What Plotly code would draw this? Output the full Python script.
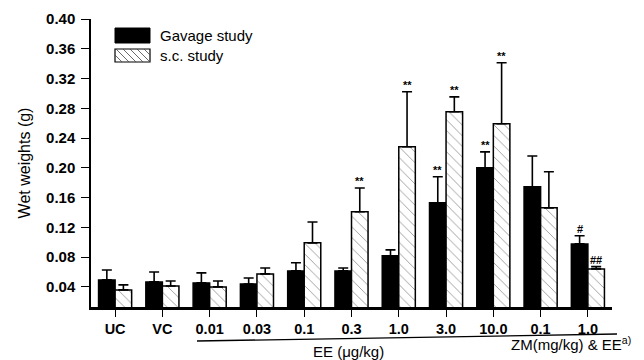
import plotly.graph_objects as go

categories = ["UC", "VC", "0.01", "0.03", "0.1", "0.3", "1.0", "3.0", "10.0", "0.1", "1.0"]
gavage_mean = [0.0494, 0.0467, 0.0454, 0.0440, 0.0615, 0.0615, 0.0817, 0.1530, 0.2000, 0.1745, 0.0978]
gavage_err = [0.0134, 0.0134, 0.0134, 0.0080, 0.0110, 0.0040, 0.0080, 0.0350, 0.0215, 0.0415, 0.0110]
sc_mean = [0.0360, 0.0413, 0.0400, 0.0575, 0.0992, 0.1409, 0.2283, 0.2753, 0.2592, 0.1462, 0.0642]
sc_err = [0.0067, 0.0067, 0.0080, 0.0080, 0.0280, 0.0320, 0.0740, 0.0200, 0.0820, 0.0485, 0.0030]
gavage_marks = ["", "", "", "", "", "", "", "**", "**", "", "#"]
sc_marks = ["", "", "", "", "", "**", "**", "**", "**", "", "##"]
y_ticks = [0.04, 0.08, 0.12, 0.16, 0.20, 0.24, 0.28, 0.32, 0.36, 0.40]

FONT = "Liberation Sans, Arial, sans-serif"
pos = list(range(len(categories)))
BW = 0.35

# the page puts the figure 8px from the window's top-left corner
OFF = 8
W, H = 644 - OFF, 360 - OFF

fig = go.Figure()
fig.add_trace(go.Bar(
    x=pos, y=gavage_mean, width=BW, offset=-BW, name="Gavage study",
    marker=dict(color="black", line=dict(color="black", width=1.5)),
    error_y=dict(type="data", array=gavage_err, arrayminus=[0] * len(pos), symmetric=False,
                 thickness=1.6, width=5, color="black"),
    showlegend=False,
))
fig.add_trace(go.Bar(
    x=pos, y=sc_mean, width=BW, offset=0, name="s.c. study",
    marker=dict(color="white", line=dict(color="black", width=1.5),
                pattern=dict(shape="\\", size=7.5, solidity=0.12, fgcolor="#333333", bgcolor="white")),
    error_y=dict(type="data", array=sc_err, arrayminus=[0] * len(pos), symmetric=False,
                 thickness=1.6, width=5, color="black"),
    showlegend=False,
))

anns = []
for i, m in enumerate(gavage_marks):
    if m:
        anns.append(dict(x=i - BW / 2, y=gavage_mean[i] + gavage_err[i], xref="x", yref="y",
                         text=m, showarrow=False, yanchor="bottom", yshift=-1,
                         font=dict(family=FONT, size=11, color="black", weight="bold")))
for i, m in enumerate(sc_marks):
    if m:
        anns.append(dict(x=i + BW / 2, y=sc_mean[i] + sc_err[i], xref="x", yref="y",
                         text=m, showarrow=False, yanchor="bottom", yshift=-1,
                         font=dict(family=FONT, size=11, color="black", weight="bold")))

# plot area in window pixels: x 91..612, y 19..307
L, R, T, B = 91, 612, 19, 307
def px(x):
    return (x - L) / (R - L)
def py(y):
    return (B - y) / (B - T)

shapes = []
# legend boxes
shapes.append(dict(type="rect", xref="paper", yref="paper", x0=px(115), x1=px(150), y0=py(43), y1=py(28),
                   fillcolor="black", line=dict(color="black", width=1)))
shapes.append(dict(type="rect", xref="paper", yref="paper", x0=px(115), x1=px(150), y0=py(62), y1=py(49),
                   fillcolor="white", line=dict(color="black", width=1.2)))
# hatch lines in legend box
bx0, bx1, by0, by1 = 115, 150, 49, 62
h = by1 - by0
k = bx0 - h
while k < bx1:
    xa, ya = k, by0
    xb, yb = k + h, by1
    if xa < bx0:
        ya = by0 + (bx0 - xa)
        xa = bx0
    if xb > bx1:
        yb = by1 - (xb - bx1)
        xb = bx1
    if xb > xa:
        shapes.append(dict(type="line", xref="paper", yref="paper", x0=px(xa), y0=py(ya), x1=px(xb), y1=py(yb),
                           line=dict(color="#444444", width=0.8)))
    k += 7
# underline below group labels
shapes.append(dict(type="line", xref="paper", yref="paper", x0=px(197), y0=py(341), x1=px(617), y1=py(334),
                   line=dict(color="black", width=1.3)))

anns.append(dict(x=px(158), y=py(35), xref="paper", yref="paper", text="Gavage study", showarrow=False,
                 xanchor="left", yanchor="middle", font=dict(family=FONT, size=15, color="black")))
anns.append(dict(x=px(158), y=py(55), xref="paper", yref="paper", text="s.c. study", showarrow=False,
                 xanchor="left", yanchor="middle", font=dict(family=FONT, size=15, color="black")))
anns.append(dict(x=px(348), y=py(351), xref="paper", yref="paper", text="EE (μg/kg)", showarrow=False,
                 xanchor="center", yanchor="middle", font=dict(family=FONT, size=15, color="black")))
anns.append(dict(x=px(571), y=py(343), xref="paper", yref="paper", text="ZM(mg/kg) & EE<sup>a)</sup>",
                 showarrow=False, xanchor="center", yanchor="middle", font=dict(family=FONT, size=15, color="black")))

fig.update_layout(
    width=W, height=H,
    margin=dict(l=L - OFF, r=W - (R - OFF), t=T - OFF, b=H - (B - OFF), autoexpand=False),
    paper_bgcolor="white", plot_bgcolor="white",
    barmode="overlay",
    font=dict(family=FONT, color="black"),
    annotations=anns, shapes=shapes,
)
fig.update_xaxes(
    range=[-0.51, 10.51], tickvals=pos, ticktext=categories,
    showline=True, linecolor="black", linewidth=2.5,
    ticks="outside", ticklen=7, tickwidth=1, tickcolor="black",
    tickfont=dict(family=FONT, size=14.5, color="black", weight="bold"),
    showgrid=False, zeroline=False,
)
fig.update_yaxes(
    range=[0.013, 0.40], tickvals=y_ticks, tickformat=".2f",
    showline=True, linecolor="black", linewidth=1.5,
    ticks="outside", ticklen=8, tickwidth=1, tickcolor="black",
    ticklabelstandoff=3,
    tickfont=dict(family=FONT, size=15, color="black", weight="bold"),
    title=dict(text="Wet weights (g)", font=dict(family=FONT, size=16, color="black"), standoff=11),
    showgrid=False, zeroline=False,
)

fig.write_html("out.html")
